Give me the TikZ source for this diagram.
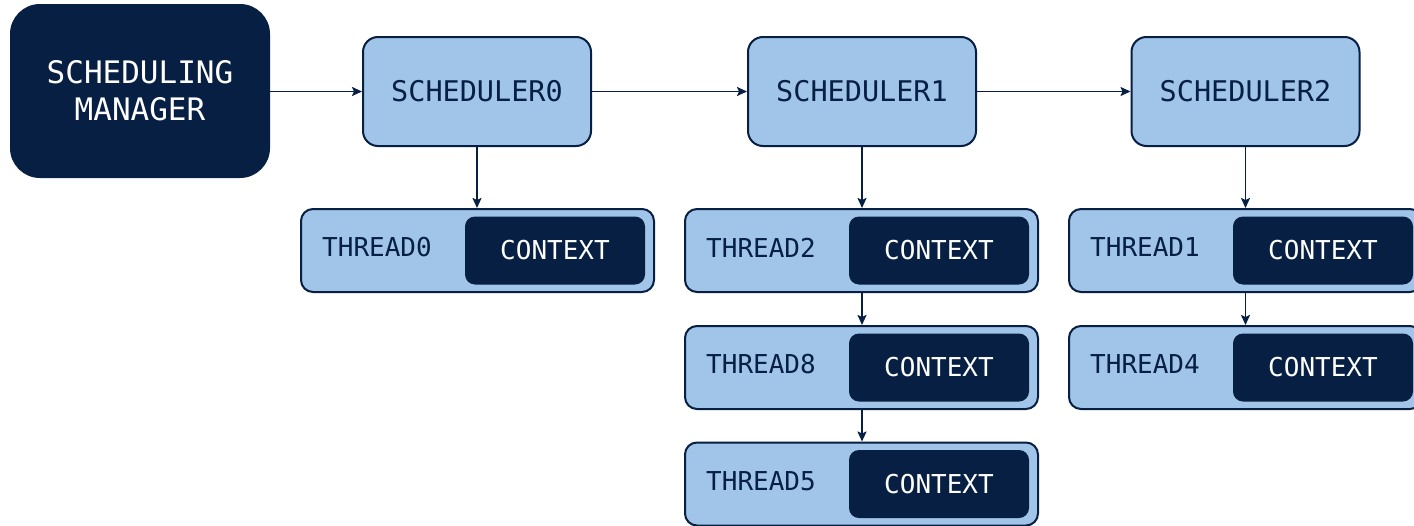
\documentclass[tikz,border=0pt]{standalone}
\usepackage{fontspec}
\setmonofont{DejaVu Sans Mono}
\usetikzlibrary{arrows.meta}
\definecolor{navy}{HTML}{061F43}
\definecolor{lightblue}{HTML}{A0C5E8}
\tikzset{
  mgrbox/.style={draw=none, fill=navy, rounded corners=30pt, minimum width=260pt, minimum height=174pt, inner sep=0pt, text=white, align=center, font=\ttfamily\fontsize{31}{37}\selectfont},
  schedbox/.style={draw=navy, line width=2pt, fill=lightblue, rounded corners=15pt, minimum width=228pt, minimum height=109pt, inner sep=0pt, text=navy, font=\ttfamily\fontsize{28.5}{34}\selectfont},
  threadbox/.style={draw=navy, line width=2pt, fill=lightblue, rounded corners=12pt, minimum width=353pt, minimum height=83pt, inner sep=0pt},
  ctxbox/.style={draw=none, fill=navy, rounded corners=10pt, minimum width=180pt, minimum height=68pt, inner sep=0pt, text=white, font=\ttfamily\fontsize{26}{31}\selectfont},
  threadlabel/.style={anchor=west, inner sep=0pt, text=navy, font=\ttfamily\fontsize{26}{31}\selectfont},
  conn/.style={draw=navy, line width=1.8pt, -{Stealth[length=10pt,width=9pt,inset=2pt]}}
}
\begin{document}
\begin{tikzpicture}[x=1pt,y=-1pt]
\useasboundingbox (0,0) rectangle (1414,525);
\clip (0,0) rectangle (1414,525);
\node[mgrbox] (mgr) at (140,91) {SCHEDULING\\MANAGER};
\node[schedbox] (s0) at (477,91.5) {SCHEDULER0};
\node[schedbox] (s1) at (862,91.5) {SCHEDULER1};
\node[schedbox] (s2) at (1245.5,91.5) {SCHEDULER2};
% threads
\foreach \n/\lab/\cx/\cy in {t0/THREAD0/477.5/250.5, t2/THREAD2/861.5/250.5, t8/THREAD8/861.5/367.5, t5/THREAD5/861.5/484, t1/THREAD1/1245.5/250.5, t4/THREAD4/1245.5/367.5}{
  \node[threadbox] (\n) at (\cx,\cy) {};
  \node[ctxbox] (\n c) at ([xshift=77.5pt,yshift=0pt]\n.center) {CONTEXT};
  \node[threadlabel] (\n l) at ([xshift=22pt,yshift=3pt]\n.west) {\lab};
}
\draw[conn] (mgr.east |- s0.west) -- (s0.west);
\draw[conn] (s0.east) -- (s1.west);
\draw[conn] (s1.east) -- (s2.west);
\draw[conn] (s0.south) -- (s0.south |- t0.north);
\draw[conn] (s1.south) -- (s1.south |- t2.north);
\draw[conn] (s2.south) -- (s2.south |- t1.north);
\draw[conn] (s1.south |- t2.south) -- (s1.south |- t8.north);
\draw[conn] (s1.south |- t8.south) -- (s1.south |- t5.north);
\draw[conn] (s2.south |- t1.south) -- (s2.south |- t4.north);
\end{tikzpicture}
\end{document}
